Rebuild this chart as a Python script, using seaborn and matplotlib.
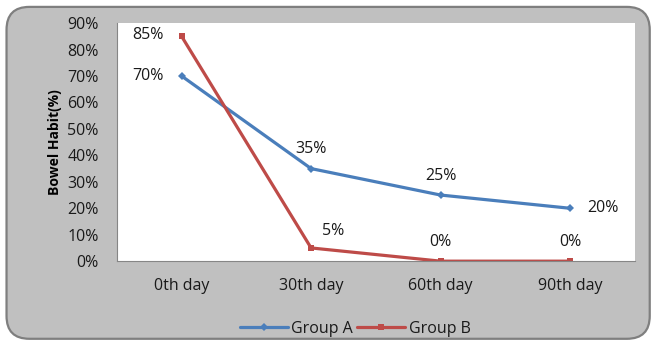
import matplotlib
matplotlib.use("Agg")
import matplotlib.pyplot as plt
from matplotlib.patches import FancyBboxPatch
from matplotlib.ticker import FixedLocator, PercentFormatter
import seaborn as sns
import pandas as pd

days = ["0th day", "30th day", "60th day", "90th day"]
group_a = [70, 35, 25, 20]
group_b = [85, 5, 0, 0]
y_ticks = [0, 10, 20, 30, 40, 50, 60, 70, 80, 90]

df = pd.DataFrame({
    "day": days * 2,
    "pos": list(range(len(days))) * 2,
    "value": group_a + group_b,
    "group": ["Group A"] * len(days) + ["Group B"] * len(days),
})

sns.set_theme(style="white")
plt.rcParams["font.family"] = ["Open Sans", "DejaVu Sans"]

fig = plt.figure(figsize=(6.53, 3.45), dpi=100)
fig.patch.set_facecolor("white")

# rounded grey chart frame
frame = FancyBboxPatch((0.010, 0.018), 0.985, 0.962,
                       boxstyle="round,pad=0,rounding_size=0.035",
                       transform=fig.transFigure, facecolor="#c0c0c0",
                       edgecolor="#7f7f7f", linewidth=1.6, zorder=-10,
                       mutation_aspect=653 / 345)
fig.patches.append(frame)

ax = fig.add_axes([0.179, 0.243, 0.793, 0.690])
ax.set_zorder(1)
ax.set_facecolor("white")

palette = {"Group A": "#4a7ebb", "Group B": "#be4b48"}
markers = {"Group A": "D", "Group B": "s"}
sns.lineplot(data=df, x="pos", y="value", hue="group", style="group",
             palette=palette, markers=markers, dashes=False, linewidth=2.3,
             markersize=4.5, markeredgewidth=0, ax=ax, legend=True)

txt = "#1a1a1a"
fs = 11.5

ax.set_xlim(-0.5, len(days) - 0.5)
ax.set_ylim(0, 90)
ax.yaxis.set_major_locator(FixedLocator(y_ticks))
ax.yaxis.set_major_formatter(PercentFormatter(decimals=0))
ax.set_xticks(range(len(days)))
ax.set_xticklabels(days)
ax.xaxis.set_minor_locator(FixedLocator([i - 0.5 for i in range(len(days) + 1)]))
ax.tick_params(axis="x", which="major", length=0, pad=12, labelsize=fs, colors=txt)
ax.tick_params(axis="x", which="minor", length=5, width=0.8, color="#868686", direction="out")
ax.tick_params(axis="y", length=5, width=0.8, color="#868686", direction="out",
               labelsize=fs, labelcolor=txt, pad=8)
for side in ["top", "right"]:
    ax.spines[side].set_visible(False)
for side in ["left", "bottom"]:
    ax.spines[side].set_color("#868686")
    ax.spines[side].set_linewidth(0.8)

ax.set_xlabel("")
ax.set_ylabel("Bowel Habit(%)", fontsize=10, fontweight="bold", color="black", labelpad=4)

# value labels
label_offsets_a = [(-24, 0), (0, 14), (0, 14), (24, 0)]
label_offsets_b = [(-24, 1), (16, 12), (0, 14), (0, 14)]
for series, offsets in ((group_a, label_offsets_a), (group_b, label_offsets_b)):
    for i, (v, off) in enumerate(zip(series, offsets)):
        ax.annotate(f"{v}%", (i, v), xytext=off, textcoords="offset points",
                    ha="center", va="center", fontsize=fs, color=txt)

leg = ax.legend(loc="upper center", bbox_to_anchor=(0.46, -0.19), ncol=2,
                frameon=False, fontsize=fs, handlelength=3.0, handletextpad=0.2,
                columnspacing=0.3)
for text in leg.get_texts():
    text.set_color(txt)

fig.savefig("out.png", dpi=100, facecolor=fig.get_facecolor())
